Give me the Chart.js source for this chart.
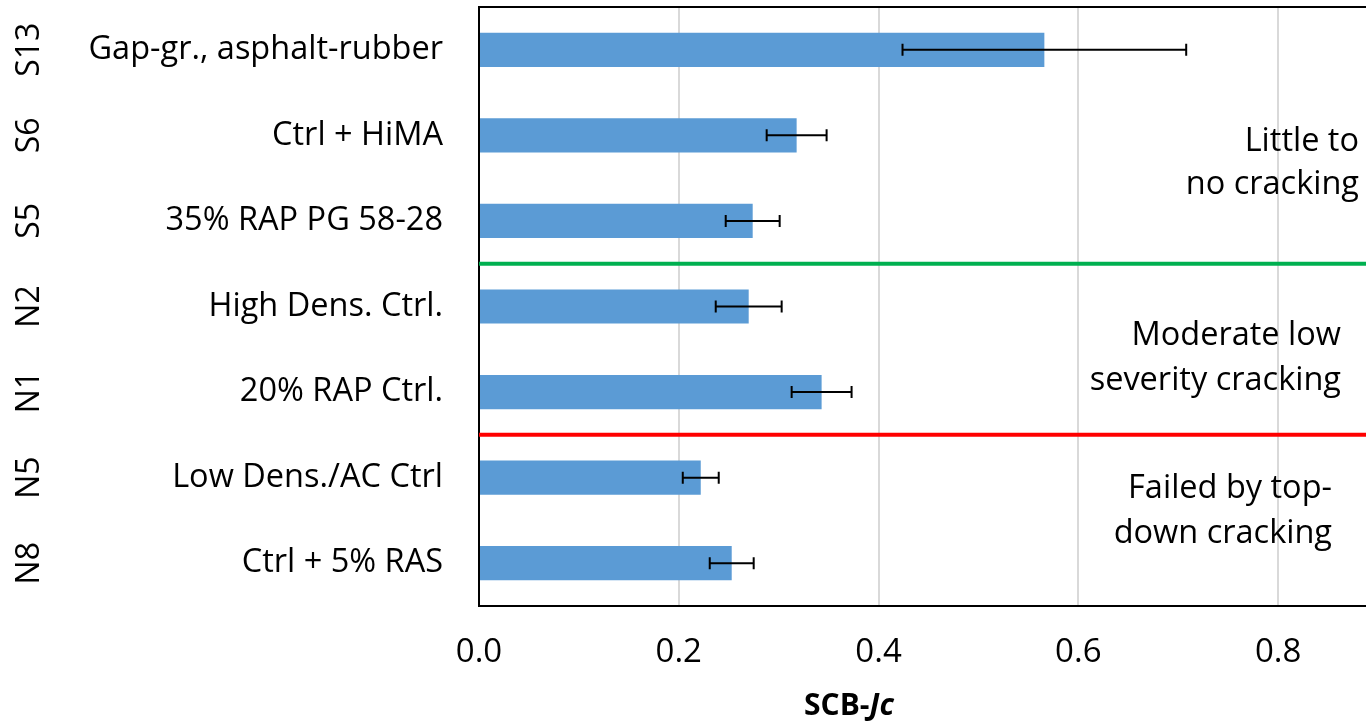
<!DOCTYPE html>
<html>
<head>
<meta charset="utf-8">
<script src="https://cdn.jsdelivr.net/npm/chart.js@4/dist/chart.umd.min.js"></script>
<style>
  body { margin: 0; background: #fff; overflow: hidden; }
</style>
</head>
<body>
<canvas id="chart" width="1366" height="724"></canvas>
<script>
// data
const codes = ['S13', 'S6', 'S5', 'N2', 'N1', 'N5', 'N8']
const mixes = ['Gap-gr., asphalt-rubber', 'Ctrl + HiMA', '35% RAP PG 58-28', 'High Dens. Ctrl.', '20% RAP Ctrl.', 'Low Dens./AC Ctrl', 'Ctrl + 5% RAS']
const jcValues = [0.566, 0.318, 0.274, 0.270, 0.343, 0.222, 0.253]
const jcErrors = [0.142, 0.030, 0.027, 0.033, 0.030, 0.018, 0.022]
const xTicks = [0, 0.2, 0.4, 0.6, 0.8]

// zone boundaries (between categories) and notes on the right
const zoneLines = [
  { at: 2.5, color: '#00b050' },
  { at: 4.5, color: '#ff0000' },
]
const zoneNotes = [
  { lines: ['Little to', 'no cracking'], x: 1359, y: [151, 194] },
  { lines: ['Moderate low', 'severity cracking'], x: 1341, y: [345, 390] },
  { lines: ['Failed by top-', 'down cracking'], x: 1332, y: [498, 543] },
]

const FONT = '"Open Sans", "Liberation Sans", sans-serif'

const extras = {
  id: 'extras',
  afterDatasetsDraw(chart) {
    const { ctx, chartArea, scales } = chart
    const x = scales.x
    const y = scales.y
    ctx.save()

    // error bars
    const meta = chart.getDatasetMeta(0)
    ctx.strokeStyle = '#000'
    ctx.lineWidth = 2
    jcValues.forEach((v, i) => {
      const yy = meta.data[i].y
      const x1 = x.getPixelForValue(v - jcErrors[i])
      const x2 = x.getPixelForValue(v + jcErrors[i])
      ctx.beginPath()
      ctx.moveTo(x1, yy); ctx.lineTo(x2, yy)
      ctx.moveTo(x1, yy - 6); ctx.lineTo(x1, yy + 6)
      ctx.moveTo(x2, yy - 6); ctx.lineTo(x2, yy + 6)
      ctx.stroke()
    })

    // zone lines
    ctx.lineWidth = 4
    zoneLines.forEach((z) => {
      const yy = y.getPixelForValue(z.at)
      ctx.strokeStyle = z.color
      ctx.beginPath()
      ctx.moveTo(chartArea.left, yy)
      ctx.lineTo(chartArea.right, yy)
      ctx.stroke()
    })

    // top border of plot area
    ctx.strokeStyle = '#000'
    ctx.lineWidth = 2
    ctx.beginPath()
    ctx.moveTo(chartArea.left - 1, chartArea.top)
    ctx.lineTo(chartArea.right, chartArea.top)
    ctx.stroke()

    // notes
    ctx.fillStyle = '#000'
    ctx.font = '32.5px ' + FONT
    ctx.textAlign = 'right'
    ctx.textBaseline = 'alphabetic'
    zoneNotes.forEach((n) => {
      n.lines.forEach((t, k) => ctx.fillText(t, n.x, n.y[k]))
    })

    // rotated section codes
    ctx.font = '32px ' + FONT
    ctx.textAlign = 'center'
    ctx.textBaseline = 'middle'
    codes.forEach((c, i) => {
      ctx.save()
      ctx.translate(30, y.getPixelForValue(i))
      ctx.rotate(-Math.PI / 2)
      ctx.fillText(c, 0, 0)
      ctx.restore()
    })

    // axis title SCB-Jc (Jc italic)
    ctx.textAlign = 'left'
    ctx.textBaseline = 'alphabetic'
    const p1 = 'SCB-'
    const p2 = 'Jc'
    ctx.font = 'bold 30px ' + FONT
    const w1 = ctx.measureText(p1).width
    ctx.font = 'italic bold 30px ' + FONT
    const w2 = ctx.measureText(p2).width
    const sx = 849 - (w1 + w2) / 2
    ctx.font = 'bold 30px ' + FONT
    ctx.fillText(p1, sx, 715)
    ctx.font = 'italic bold 30px ' + FONT
    ctx.fillText(p2, sx + w1, 715)

    ctx.restore()
  },
}

new Chart(document.getElementById('chart'), {
  type: 'bar',
  data: {
    labels: mixes,
    datasets: [
      {
        data: jcValues,
        backgroundColor: '#5b9bd5',
        barPercentage: 0.4,
        categoryPercentage: 1,
      },
    ],
  },
  options: {
    indexAxis: 'y',
    responsive: false,
    animation: false,
    layout: { padding: { top: 7, left: 0, right: 0, bottom: 0 } },
    plugins: { legend: { display: false }, tooltip: { enabled: false } },
    scales: {
      x: {
        min: 0,
        max: 0.888,
        afterBuildTicks(scale) {
          scale.ticks = xTicks.map((v) => ({ value: v }))
        },
        afterFit(scale) {
          scale.height = 118
        },
        grid: { color: '#d9d9d9', lineWidth: 2, drawTicks: false },
        border: { color: '#000', width: 2 },
        ticks: {
          color: '#000',
          font: { family: FONT, size: 33 },
          padding: 27,
          maxRotation: 0,
          callback: (v) => Number(v).toFixed(1),
        },
      },
      y: {
        afterFit(scale) {
          scale.width = 479
          scale.paddingTop = 0
          scale.paddingBottom = 0
        },
        grid: { display: false, drawTicks: false },
        border: { color: '#000', width: 2 },
        ticks: {
          color: '#000',
          font: { family: FONT, size: 32.5 },
          padding: 36,
        },
      },
    },
  },
  plugins: [extras],
})
</script>
</body>
</html>
